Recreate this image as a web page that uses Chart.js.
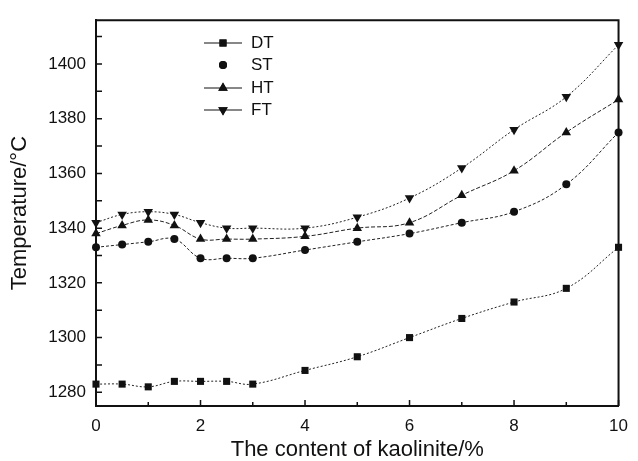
<!DOCTYPE html>
<html>
<head>
<meta charset="utf-8">
<script src="https://cdn.jsdelivr.net/npm/chart.js@4.4.1/dist/chart.umd.min.js"></script>
<style>
  body { margin: 0; background: #fff; }
  canvas { display: block; }
</style>
</head>
<body>
<canvas id="grafico" width="638" height="461"></canvas>
<script>
// datos
var kaolinite = [0, 0.5, 1, 1.5, 2, 2.5, 3, 4, 5, 6, 7, 8, 9, 10];
var DT = [1283, 1283, 1282, 1284, 1284, 1284, 1283, 1288, 1293, 1300, 1307, 1313, 1318, 1333];
var ST = [1333, 1334, 1335, 1336, 1329, 1329, 1329, 1332, 1335, 1338, 1342, 1346, 1356, 1375];
var HT = [1338, 1341, 1343, 1341, 1336, 1336, 1336, 1337, 1340, 1342, 1352, 1361, 1375, 1387];
var FT = [1342, 1345, 1346, 1345, 1342, 1340, 1340, 1340, 1344, 1351, 1362, 1376, 1388, 1407];
var xTicks = [0, 2, 4, 6, 8, 10];
var yTicks = [1280, 1300, 1320, 1340, 1360, 1380, 1400];

function puntos(serie) {
  return kaolinite.map(function (x, i) { return { x: x, y: serie[i] }; });
}

function serie(label, valores, estilo, rot, radio, dash) {
  return {
    label: label,
    data: puntos(valores),
    borderColor: '#222',
    backgroundColor: '#111',
    borderWidth: 1,
    borderDash: dash,
    pointStyle: estilo,
    rotation: rot,
    pointRadius: radio,
    pointBorderWidth: 0,
    pointBackgroundColor: '#111',
    tension: 0.4,
    clip: false,
    legendLine: label !== 'ST'
  };
}

// ticks hacia adentro, marco superior/derecho y leyenda
var marco = {
  id: 'marco',
  afterDraw: function (chart) {
    var c = chart.ctx, a = chart.chartArea;
    var sx = chart.scales.x, sy = chart.scales.y;
    c.save();
    c.strokeStyle = '#111';
    c.lineWidth = 2;
    c.beginPath();
    c.moveTo(a.left, a.top); c.lineTo(a.right, a.top); c.lineTo(a.right, a.bottom);
    c.stroke();
    c.lineWidth = 1.5;
    c.beginPath();
    for (var v = 0; v <= 10; v += 1) {
      var px = sx.getPixelForValue(v);
      var len = (v % 2 === 0) ? 6 : 4;
      c.moveTo(px, a.bottom); c.lineTo(px, a.bottom - len);
    }
    for (var w = 1280; w <= 1410; w += 10) {
      var py = sy.getPixelForValue(w);
      c.moveTo(a.left, py); c.lineTo(a.left + 6, py);
    }
    c.stroke();

    // leyenda
    c.font = '17px Arial, "Liberation Sans", sans-serif';
    c.textBaseline = 'middle';
    c.fillStyle = '#111';
    var ly = [43, 65, 88, 110];
    chart.data.datasets.forEach(function (ds, i) {
      var y = ly[i];
      if (ds.legendLine) {
        c.lineWidth = 1;
        c.strokeStyle = '#111';
        c.beginPath(); c.moveTo(204, y); c.lineTo(242, y); c.stroke();
      }
      Chart.helpers.drawPoint(c, {
        pointStyle: ds.pointStyle, radius: ds.pointRadius, rotation: ds.rotation, borderWidth: 0
      }, 223, y);
      c.fill();
      c.fillText(ds.label, 251, y);
    });
    c.restore();
  }
};

var fuente = 'Arial, "Liberation Sans", sans-serif';

var ctx = document.getElementById('grafico').getContext('2d');
var grafico = new Chart(ctx, {
  type: 'line',
  data: {
    datasets: [
      serie('DT', DT, 'rect', 0, 5, [2, 2]),
      serie('ST', ST, 'circle', 0, 4, [3, 2]),
      serie('HT', HT, 'triangle', 0, 5.5, [4, 2]),
      serie('FT', FT, 'triangle', 180, 5.5, [2, 2])
    ]
  },
  options: {
    responsive: false,
    animation: false,
    layout: { padding: { top: 14, right: 15, left: 0, bottom: 0 } },
    plugins: { legend: { display: false }, tooltip: { enabled: false } },
    scales: {
      x: {
        type: 'linear',
        min: 0, max: 10,
        afterFit: function (s) { s.height = 55; },
        afterBuildTicks: function (s) { s.ticks = xTicks.map(function (v) { return { value: v }; }); },
        grid: { drawOnChartArea: false, drawTicks: false },
        border: { color: '#111', width: 2 },
        ticks: { color: '#111', padding: 10, font: { family: fuente, size: 17 },
          callback: function (v) { return String(v); } },
        title: {
          display: true, text: 'The content of kaolinite/%', color: '#111',
          font: { family: fuente, size: 22, lineHeight: 1 },
          padding: { top: 0, bottom: 0 }
        }
      },
      y: {
        min: 1275, max: 1416,
        afterFit: function (s) { s.width = 96; },
        afterBuildTicks: function (s) { s.ticks = yTicks.map(function (v) { return { value: v }; }); },
        grid: { drawOnChartArea: false, drawTicks: false },
        border: { color: '#111', width: 2 },
        ticks: { color: '#111', padding: 10, font: { family: fuente, size: 17 },
          callback: function (v) { return String(v); } },
        title: {
          display: true, text: 'Temperature/°C', color: '#111',
          font: { family: fuente, size: 22, lineHeight: 1 },
          padding: { top: 9, bottom: 0 }
        }
      }
    }
  },
  plugins: [marco]
});
</script>
</body>
</html>
